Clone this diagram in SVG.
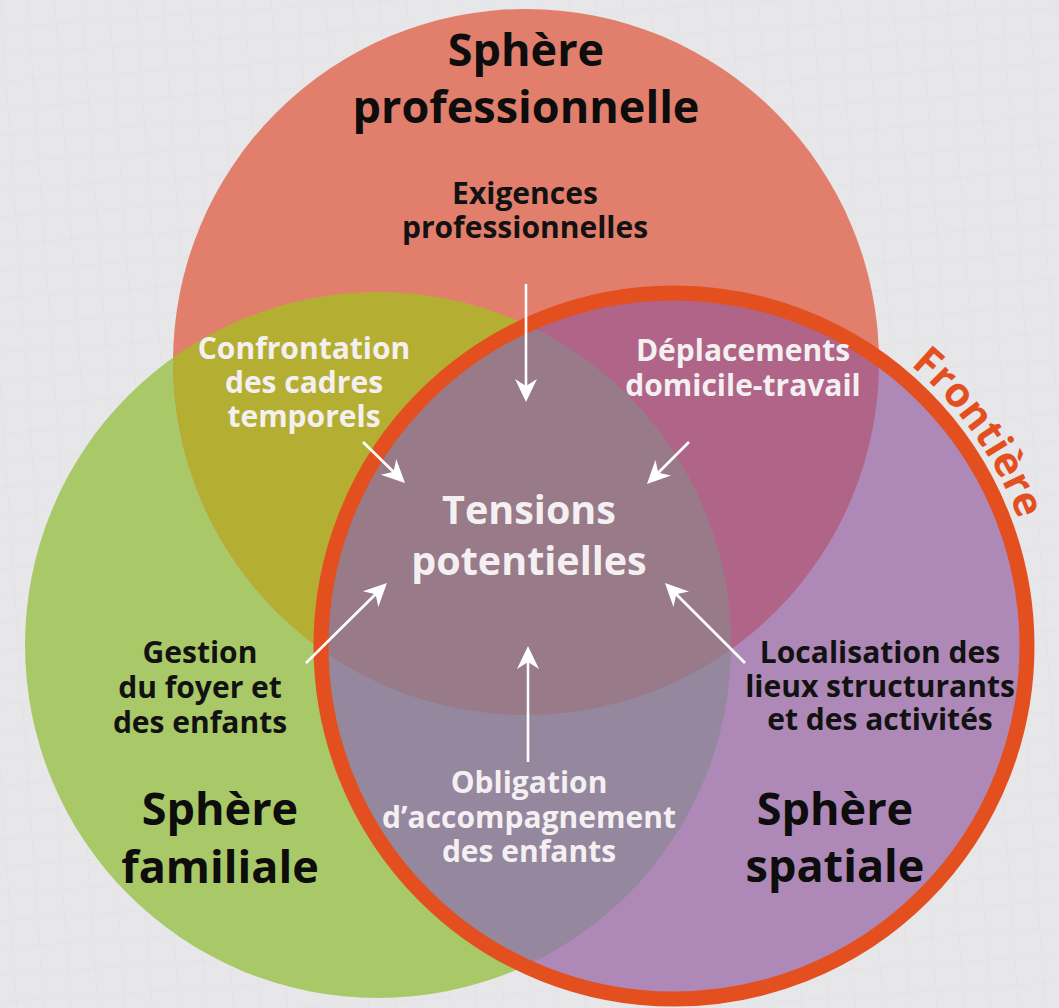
<svg xmlns="http://www.w3.org/2000/svg" xmlns:xlink="http://www.w3.org/1999/xlink" width="1059" height="1008" viewBox="0 0 1059 1008">
  <defs>
    <style>
      .t { font-family: "Open Sans", "Noto Sans", "DejaVu Sans", sans-serif; font-weight: 700; text-anchor: middle; }
      .title { font-size: 45px; fill: #0d0d0d; }
      .lab { font-size: 30px; }
      .dark { fill: #121212; }
      .light { fill: #f4f0f2; }
      .center { font-size: 39.5px; fill: #f4f0f2; }
      .front { font-size: 41px; fill: #e44f20; }
      .arrow { stroke: #ffffff; stroke-width: 2.6; fill: none; marker-end: url(#head); }
    </style>
    <pattern id="grid" width="27" height="27" patternUnits="userSpaceOnUse" patternTransform="rotate(-4)">
      <path d="M0 0 H27 M0 0 V27" stroke="#d9d9dc" stroke-width="1" fill="none"/>
    </pattern>
    <marker id="head" viewBox="-24 -12 26 24" refX="-5" refY="0" markerWidth="26" markerHeight="24" markerUnits="userSpaceOnUse" orient="auto">
      <path d="M0 0 L-23 -11 L-16 0 L-23 11 Z" fill="#ffffff"/>
    </marker>
    <clipPath id="cRed"><circle cx="526" cy="362" r="353"/></clipPath>
    <clipPath id="cGreen"><circle cx="378" cy="645" r="353"/></clipPath>
    <clipPath id="cPurple"><circle cx="674" cy="646" r="353"/></clipPath>
    <path id="arcFront" d="M829.1 313.4 A367 367 0 0 1 1039.6 614.0"/>
  </defs>

  <rect width="1059" height="1008" fill="#e7e7e9"/>
  <rect width="1059" height="1008" fill="url(#grid)" opacity="0.55"/>

  <g id="sphere-familiale">
    <circle cx="378" cy="645" r="353" fill="#a9c867"/>
  </g>
  <g id="sphere-professionnelle">
    <circle cx="526" cy="362" r="353" fill="#e27e6c"/>
  </g>
  <g id="sphere-spatiale">
    <circle cx="674" cy="646" r="353" fill="#ae88b6"/>
  </g>
  <g id="overlaps">
    <circle cx="526" cy="362" r="353" fill="#b4af33" clip-path="url(#cGreen)"/>
    <circle cx="526" cy="362" r="353" fill="#b06488" clip-path="url(#cPurple)"/>
    <circle cx="378" cy="645" r="353" fill="#94879e" clip-path="url(#cPurple)"/>
    <g clip-path="url(#cPurple)">
      <circle cx="526" cy="362" r="353" fill="#987a88" clip-path="url(#cGreen)"/>
    </g>
  </g>
  <g id="frontiere">
    <circle cx="674" cy="646" r="353" fill="none" stroke="#e44f20" stroke-width="15"/>
    <text class="t front"><textPath xlink:href="#arcFront" href="#arcFront" startOffset="50%">Frontière</textPath></text>
  </g>

  <g id="connectors">
    <line class="arrow" x1="526" y1="284" x2="526" y2="397"/>
    <line class="arrow" x1="363" y1="442" x2="401.4" y2="479.5"/>
    <line class="arrow" x1="689" y1="442" x2="650.5" y2="480.5"/>
    <line class="arrow" x1="306" y1="663" x2="383.4" y2="586.5"/>
    <line class="arrow" x1="745" y1="663" x2="668.5" y2="586.5"/>
    <line class="arrow" x1="528" y1="762" x2="528" y2="651"/>
  </g>

  <g id="title-professionnelle">
    <text class="t title" x="526" y="66">Sphère<tspan x="526" y="123">professionnelle</tspan></text>
  </g>
  <g id="title-familiale">
    <text class="t title" x="220" y="825">Sphère<tspan x="220" y="883">familiale</tspan></text>
  </g>
  <g id="title-spatiale">
    <text class="t title" x="835" y="825">Sphère<tspan x="835" y="882">spatiale</tspan></text>
  </g>
  <g id="node-exigences">
    <text class="t lab dark" x="525" y="204">Exigences<tspan x="525" y="238">professionnelles</tspan></text>
  </g>
  <g id="node-confrontation">
    <text class="t lab light" x="304" y="359">Confrontation<tspan x="304" y="393">des cadres</tspan><tspan x="304" y="427">temporels</tspan></text>
  </g>
  <g id="node-deplacements">
    <text class="t lab light" x="743" y="361">Déplacements<tspan x="743" y="396">domicile-travail</tspan></text>
  </g>
  <g id="node-tensions">
    <text class="t center" x="529" y="524">Tensions<tspan x="529" y="575">potentielles</tspan></text>
  </g>
  <g id="node-gestion">
    <text class="t lab dark" x="200" y="663">Gestion<tspan x="200" y="698">du foyer et</tspan><tspan x="200" y="733">des enfants</tspan></text>
  </g>
  <g id="node-localisation">
    <text class="t lab dark" x="880" y="663">Localisation des<tspan x="880" y="697">lieux structurants</tspan><tspan x="880" y="730">et des activités</tspan></text>
  </g>
  <g id="node-obligation">
    <text class="t lab light" x="529" y="793">Obligation<tspan x="529" y="828">d’accompagnement</tspan><tspan x="529" y="862">des enfants</tspan></text>
  </g>
</svg>
